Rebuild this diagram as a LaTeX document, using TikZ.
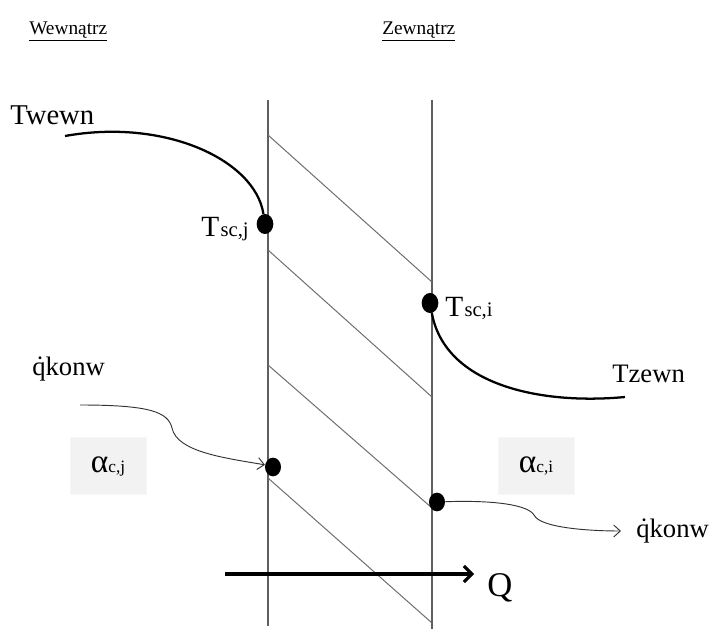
\documentclass[tikz,border=0pt]{standalone}
\usepackage{fontspec}
\setmainfont{Liberation Serif}
\definecolor{wallgray}{RGB}{95,95,95}
\definecolor{hatchgray}{RGB}{110,110,110}
\definecolor{boxgray}{RGB}{242,242,242}
\usetikzlibrary{shapes,arrows,arrows.meta,positioning,calc}

\tikzset{
    wall/.style={draw=wallgray, line width=1.1pt},
    hatch/.style={draw=hatchgray, line width=0.75pt},
    tempcurve/.style={draw=black, line width=1.7pt},
    flux/.style={draw=black!80, line width=0.7pt, -{Straight Barb[length=5pt,width=9pt]}},
    heatflow/.style={draw=black, line width=2.3pt, -{Straight Barb[length=6pt,width=12pt]}},
    surfdot/.style={ellipse, fill=black, inner sep=0pt, minimum width=12.5pt, minimum height=15pt},
    alphabox/.style={fill=boxgray, draw=boxgray!60!white, minimum width=57pt, minimum height=43pt, inner sep=0pt},
    biglabel/.style={inner sep=0pt, font=\fontsize{20}{24}\selectfont},
    sidelabel/.style={inner sep=0pt, font=\fontsize{14.5}{17}\selectfont}
}

\begin{document}
\begin{tikzpicture}[x=0.75pt, y=-0.75pt]
    \useasboundingbox (0,0) rectangle (709,630);

    % wall and hatching
    \draw[wall] (268,100) -- (268,626);
    \draw[wall] (432,100) -- (432,629);
    \foreach \a/\b in {135/282, 250/397, 365/508, 478/623}
        \draw[hatch] (268,\a) -- (432,\b);

    % side headings
    \node[sidelabel, anchor=base west] (inside) at (29,35) {\underline{Wewnątrz}};
    \node[sidelabel, anchor=base west] (outside) at (382,35) {\underline{Zewnątrz}};

    % surface points
    \node[surfdot] (scj) at (265,224) {};
    \node[surfdot] (sci) at (430,303) {};
    \node[surfdot, minimum width=12pt, minimum height=14pt] (cj) at (273,467) {};
    \node[surfdot, minimum width=12pt, minimum height=14pt] (ci) at (437,502) {};

    % temperatures
    \node[biglabel, anchor=base west, font=\fontsize{21.5}{25}\selectfont] (twewn) at (10,125) {Twewn};
    \node[biglabel, anchor=base west] (tzewn) at (612,382) {Tzewn};
    \node[biglabel, anchor=base east] (tscj) at (249,237) {{\fontsize{22}{25}\selectfont T}\kern1pt{\fontsize{15.5}{18}\selectfont sc,j}};
    \node[biglabel, anchor=base west] (tsci) at (445,317) {{\fontsize{22}{25}\selectfont T}\kern1pt{\fontsize{15.5}{18}\selectfont sc,i}};

    \coordinate (wstart) at (65,136);
    \coordinate (zend) at (625,397);
    \draw[tempcurve] (wstart) .. controls (165,118) and (255,160) .. (scj);
    \draw[tempcurve] (sci) .. controls (445,385) and (540,405) .. (zend);

    % convection
    \node[biglabel, anchor=base west] (qin) at (32,375) {\.{q}konw};
    \node[biglabel, anchor=base west] (qout) at (636,537) {\.{q}konw};
    \node[alphabox] (alj) at (108,466) {{\fontsize{25}{27}\selectfont α}{\fontsize{13}{15}\selectfont c,j}};
    \node[alphabox] (ali) at (536,466) {{\fontsize{25}{27}\selectfont α}{\fontsize{13}{15}\selectfont c,i}};

    \coordinate (fluxin) at (80,405);
    \coordinate (fluxout) at (621,531);
    \draw[flux] (fluxin) .. controls (150,405) and (168,412) .. (172,428)
        .. controls (177,452) and (225,458) .. (cj.165);
    \draw[flux] (ci) .. controls (495,500) and (528,505) .. (534,515)
        .. controls (540,528) and (590,531) .. (fluxout);

    % heat flow
    \node[inner sep=0pt, anchor=base west, font=\fontsize{26}{30}\selectfont] (Q) at (487,596) {Q};
    \coordinate (qstart) at (225,574);
    \coordinate (qhead) at (474,574);
    \draw[heatflow] (qstart) -- (qhead);
\end{tikzpicture}
\end{document}
